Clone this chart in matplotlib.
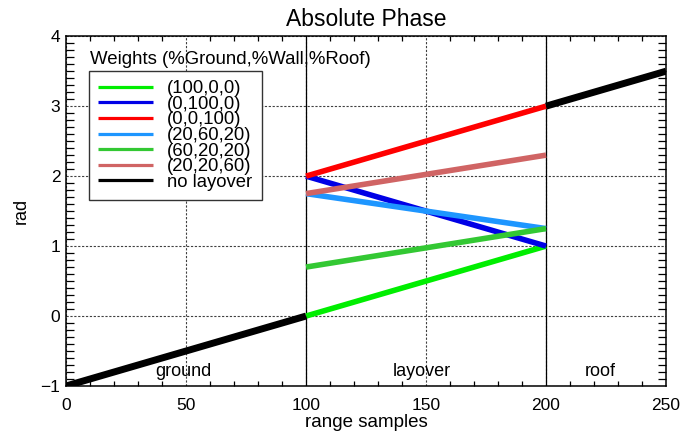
import numpy as np
import matplotlib.pyplot as plt
from matplotlib.ticker import MultipleLocator

plt.rcParams['font.family'] = ['Liberation Sans', 'DejaVu Sans']

# phase ramps
ground_x = [0, 100]
ground_y = [-1.0, 0.0]
roof_x = [200, 250]
roof_y = [3.0, 3.5]

layover_x = [100, 200]
weights = ["(100,0,0)", "(0,100,0)", "(0,0,100)", "(20,60,20)", "(60,20,20)", "(20,20,60)"]
start_y = [0.0, 2.0, 2.0, 1.75, 0.7, 1.75]
end_y = [1.0, 1.0, 3.0, 1.25, 1.25, 2.3]
colors = ["#00ee00", "#0000e6", "#ff0000", "#1e96ff", "#33c833", "#d06464"]

regions = ["ground", "layover", "roof"]
region_x = [49, 148.3, 222.5]

fig = plt.figure(figsize=(6.9, 4.34), dpi=100)
ax = fig.add_axes([0.0957, 0.1106, 0.8696, 0.806])

handles = []
for lab, y0, y1, c in zip(weights, start_y, end_y, colors):
    h, = ax.plot(layover_x, [y0, y1], color=c, lw=4, solid_capstyle='butt', label=lab)
    handles.append(h)
h, = ax.plot(ground_x, ground_y, color='black', lw=5, solid_capstyle='butt', label="no layover")
ax.plot(roof_x, roof_y, color='black', lw=5, solid_capstyle='butt')
handles.append(h)

# region borders
ax.axvline(100, color='black', lw=0.9, zorder=1)
ax.axvline(200, color='black', lw=0.9, zorder=1)

for r, xr in zip(regions, region_x):
    ax.text(xr, -0.857, r, ha='center', va='baseline', fontsize=13)

ax.set_xlim(0, 250)
ax.set_ylim(-1, 4)
ax.xaxis.set_major_locator(MultipleLocator(50))
ax.xaxis.set_minor_locator(MultipleLocator(10))
ax.yaxis.set_major_locator(MultipleLocator(1))
ax.yaxis.set_minor_locator(MultipleLocator(0.1))
ax.tick_params(which='both', direction='in', top=True, right=True, labelsize=12.5)
ax.tick_params(which='major', length=0)
ax.tick_params(axis='x', which='minor', length=3.8, width=0.9)
ax.tick_params(axis='y', which='minor', length=5.8, width=0.9)
ax.tick_params(axis='x', which='major', pad=9)
ax.tick_params(axis='y', which='major', pad=4)

ax.grid(True, which='major', color='0.25', ls=(0, (2, 1.5)), lw=0.8)
ax.set_axisbelow(True)
for s in ax.spines.values():
    s.set_linewidth(1.1)

ax.set_xlabel("range samples", fontsize=13.5)
ax.xaxis.set_label_coords(0.5, -0.08)
ax.set_ylabel("rad", fontsize=13)
ax.yaxis.set_label_coords(-0.061, 0.5)
ax.set_title("Absolute Phase", fontsize=16.5, pad=7)

ax.text(10, 3.6, "Weights (%Ground,%Wall,%Roof)", fontsize=13.4, va='baseline')
leg = ax.legend(handles=handles, loc='upper left', bbox_to_anchor=(0.038, 0.9),
                fontsize=13.3, frameon=True, fancybox=False, edgecolor='0.2',
                handlelength=3.0, handletextpad=0.75, labelspacing=-0.08,
                borderpad=0.5, borderaxespad=0)
leg.get_frame().set_linewidth(1)
leg.get_frame().set_alpha(1)
for line in leg.get_lines():
    line.set_linewidth(2.3)

fig.savefig("out.png", dpi=100)
